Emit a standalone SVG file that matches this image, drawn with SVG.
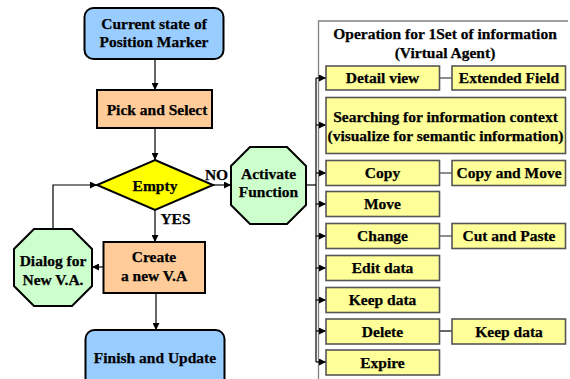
<svg xmlns="http://www.w3.org/2000/svg" width="570" height="379" viewBox="0 0 570 379">
  <style>
    text { font-family: "Liberation Serif", "DejaVu Serif", serif; font-weight: bold; font-size: 15.5px; fill: #000; stroke: #000; stroke-width: 0.25; text-anchor: middle; }
    .blue { fill: #99CCFF; stroke: #000; stroke-width: 2; }
    .peach { fill: #FFCC99; stroke: #000; stroke-width: 2; }
    .diamond { fill: #FFFF00; stroke: #000; stroke-width: 2; }
    .oct { fill: #CCFFCC; stroke: #000; stroke-width: 2; }
    .op { fill: #FFFF99; stroke: #555; stroke-width: 1.6; }
    .line { fill: none; stroke: #000; stroke-width: 1.2; }
    .link { fill: none; stroke: #444; stroke-width: 1.2; }
    .frame { fill: none; stroke: #808080; stroke-width: 1.3; }
  </style>
  <defs>
    <marker id="arrow" viewBox="0 0 8 8" refX="8" refY="4" markerWidth="7" markerHeight="7" markerUnits="userSpaceOnUse" orient="auto">
      <path d="M0,0 L8,4 L0,8 Z" fill="#000"/>
    </marker>
  </defs>

  <!-- operations panel frame -->
  <polyline class="frame" points="568,21 318.5,21 318.5,379"/>

  <!-- connectors -->
  <g id="connectors">
    <line class="line" x1="155" y1="59" x2="155" y2="90" marker-end="url(#arrow)"/>
    <line class="line" x1="155" y1="128" x2="155" y2="160" marker-end="url(#arrow)"/>
    <line class="line" x1="213" y1="185" x2="231" y2="185" marker-end="url(#arrow)"/>
    <line class="line" x1="155" y1="210" x2="155" y2="242" marker-end="url(#arrow)"/>
    <line class="line" x1="103" y1="267" x2="92" y2="267" marker-end="url(#arrow)"/>
    <polyline class="line" points="53,229 53,185 97,185" marker-end="url(#arrow)"/>
    <line class="line" x1="156" y1="293" x2="156" y2="330" marker-end="url(#arrow)"/>
    <!-- fan-out from Activate Function to the operations -->
    <line class="line" x1="306" y1="185" x2="316" y2="185"/>
    <line class="line" x1="316" y1="78" x2="316" y2="362"/>
    <line class="line" x1="316" y1="78" x2="326" y2="78" marker-end="url(#arrow)"/>
    <line class="line" x1="316" y1="125" x2="326" y2="125" marker-end="url(#arrow)"/>
    <line class="line" x1="316" y1="173" x2="326" y2="173" marker-end="url(#arrow)"/>
    <line class="line" x1="316" y1="204" x2="326" y2="204" marker-end="url(#arrow)"/>
    <line class="line" x1="316" y1="236" x2="326" y2="236" marker-end="url(#arrow)"/>
    <line class="line" x1="316" y1="268" x2="326" y2="268" marker-end="url(#arrow)"/>
    <line class="line" x1="316" y1="300" x2="326" y2="300" marker-end="url(#arrow)"/>
    <line class="line" x1="316" y1="331" x2="326" y2="331" marker-end="url(#arrow)"/>
    <line class="line" x1="316" y1="362" x2="326" y2="362" marker-end="url(#arrow)"/>
    <!-- side links -->
    <line class="link" x1="439.5" y1="78" x2="452" y2="78"/>
    <line class="link" x1="439.5" y1="173" x2="452" y2="173"/>
    <line class="link" x1="439.5" y1="236" x2="452" y2="236"/>
    <line class="line" x1="439.5" y1="331" x2="452" y2="331"/>
  </g>

  <!-- flowchart nodes -->
  <g id="current-state">
    <rect class="blue" x="84.5" y="8" width="139" height="51" rx="9"/>
    <text x="154" y="29">Current state of</text>
    <text x="154" y="47">Position Marker</text>
  </g>
  <g id="pick-select">
    <rect class="peach" x="97" y="90" width="115" height="38"/>
    <text x="157" y="115">Pick and Select</text>
  </g>
  <g id="empty">
    <polygon class="diamond" points="155,160 213,185 155,210 97,185"/>
    <text x="155" y="191">Empty</text>
  </g>
  <text x="216.5" y="180">NO</text>
  <text x="175.5" y="224">YES</text>
  <g id="activate">
    <polygon class="oct" points="250,147 287,147 306,166 306,205 287,224 250,224 231,205 231,166"/>
    <text x="268.5" y="179">Activate</text>
    <text x="268.5" y="197">Function</text>
  </g>
  <g id="create">
    <rect class="peach" x="103.5" y="242" width="101.5" height="51"/>
    <text x="154" y="262">Create</text>
    <text x="154" y="281">a new V.A</text>
  </g>
  <g id="dialog">
    <polygon class="oct" points="34,229 72,229 92,249 92,286 72,306 34,306 14,286 14,249"/>
    <text x="53" y="266">Dialog for</text>
    <text x="53" y="285">New V.A.</text>
  </g>
  <g id="finish">
    <rect class="blue" x="85.5" y="330" width="139" height="60" rx="9"/>
    <text x="155" y="363">Finish and Update</text>
  </g>

  <!-- operations panel -->
  <g id="panel-title">
    <text x="445" y="38.5">Operation for 1Set of information</text>
    <text x="445" y="57.5">(Virtual Agent)</text>
  </g>
  <g id="detail-view">
    <rect class="op" x="326" y="66" width="113.5" height="24"/>
    <text x="382.5" y="83">Detail view</text>
  </g>
  <g id="extended-field">
    <rect class="op" x="452" y="66" width="113.5" height="24"/>
    <text x="509" y="83">Extended Field</text>
  </g>
  <g id="searching">
    <rect class="op" x="326" y="97.5" width="239.5" height="56"/>
    <text x="445.5" y="122">Searching for information context</text>
    <text x="445.5" y="140.5">(visualize for semantic information)</text>
  </g>
  <g id="copy">
    <rect class="op" x="326" y="160.5" width="113.5" height="25"/>
    <text x="382.5" y="178">Copy</text>
  </g>
  <g id="copy-move">
    <rect class="op" x="452" y="160.5" width="113.5" height="25"/>
    <text x="509" y="178">Copy and Move</text>
  </g>
  <g id="move">
    <rect class="op" x="326" y="191.5" width="113.5" height="25"/>
    <text x="382.5" y="209">Move</text>
  </g>
  <g id="change">
    <rect class="op" x="326" y="223.5" width="113.5" height="25"/>
    <text x="382.5" y="241">Change</text>
  </g>
  <g id="cut-paste">
    <rect class="op" x="452" y="223.5" width="113.5" height="25"/>
    <text x="509" y="241">Cut and Paste</text>
  </g>
  <g id="edit-data">
    <rect class="op" x="326" y="255.5" width="113.5" height="25"/>
    <text x="382.5" y="273">Edit data</text>
  </g>
  <g id="keep-data">
    <rect class="op" x="326" y="287.5" width="113.5" height="25"/>
    <text x="382.5" y="305">Keep data</text>
  </g>
  <g id="delete">
    <rect class="op" x="326" y="319" width="113.5" height="25"/>
    <text x="382.5" y="336.5">Delete</text>
  </g>
  <g id="delete-keep-data">
    <rect class="op" x="452" y="319" width="113.5" height="25"/>
    <text x="509" y="336.5">Keep data</text>
  </g>
  <g id="expire">
    <rect class="op" x="326" y="350" width="113.5" height="25"/>
    <text x="382.5" y="367.5">Expire</text>
  </g>
</svg>
